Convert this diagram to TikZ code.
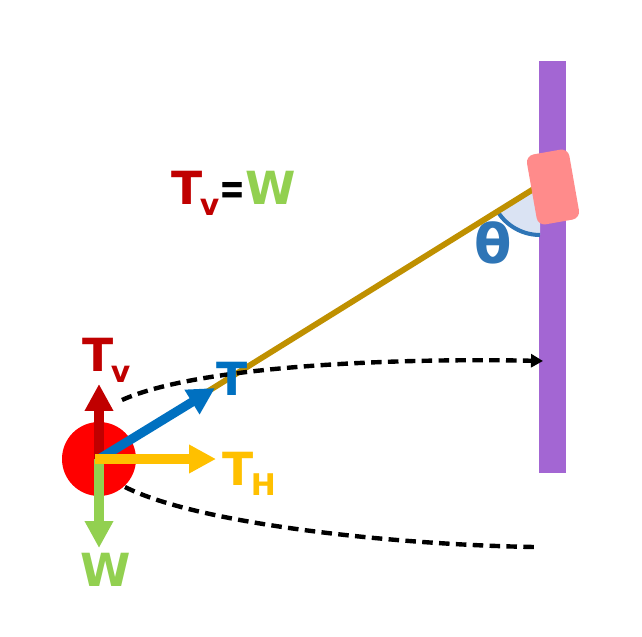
\documentclass[tikz,border=0pt]{standalone}
\usepackage{fontspec}
\setmainfont{DejaVu Sans}
\usetikzlibrary{arrows.meta, positioning, calc}
\definecolor{tvred}{HTML}{C00000}
\definecolor{tblue}{HTML}{0070C0}
\definecolor{thyellow}{HTML}{FFC000}
\definecolor{wgreen}{HTML}{92D050}
\definecolor{ropegold}{HTML}{BF9000}
\definecolor{polepurple}{HTML}{A366D3}
\definecolor{blockpink}{HTML}{FF8B8B}
\definecolor{arcblue}{HTML}{2E75B6}
\definecolor{arcfill}{HTML}{DAE3F3}
\tikzstyle{force} = [line width=5.2pt, -{Triangle[length=0.54cm, width=0.54cm]}]
\tikzstyle{swing} = [line width=2.5pt, dash pattern=on 6pt off 3.6pt]
\tikzstyle{lbl} = [inner sep=0pt, anchor=base west, font=\fontsize{26}{30}\selectfont\bfseries]
\newcommand{\lowsub}[1]{\kern-1.5pt\raisebox{-6pt}{\fontsize{17}{20}\selectfont\bfseries #1}}

\begin{document}
\begin{tikzpicture}[x=0.02cm, y=0.02cm]
    \useasboundingbox (0,0) rectangle (642,636);
    % wall post
    \fill[polepurple] (539,163) rectangle (566,575);
    \coordinate (hook) at (540,451);
    % angle
    \fill[arcfill] (hook) -- ++(211.9:50) arc[start angle=211.9, end angle=270, radius=50] -- cycle;
    \draw[arcblue, line width=2.3pt] ($(hook)+(211.9:50)$) arc[start angle=211.9, end angle=270, radius=50];
    \node (theta) [text=arcblue, font=\fontsize{31}{34}\selectfont\bfseries, inner sep=0pt] at (493,393) {θ};

    \node (ball) [circle, fill=red, minimum size=1.48cm, inner sep=0pt] at (99,177) {};
    \draw [ropegold, line width=3.3pt] (ball.center) -- (hook);
    \node (block) [rectangle, rounded corners=4.5pt, fill=blockpink, minimum width=0.86cm, minimum height=1.42cm, rotate=10] at (553,449) {};

    % paths of the swing
    \draw [swing, -{Triangle[length=0.24cm, width=0.26cm]}] (122,236) .. controls (200,271) and (400,278) .. (543,275);
    \draw [swing] (125,149) .. controls (200,111) and (400,91) .. (535,89);

    % forces
    \coordinate (tvtip) at (99,252);
    \coordinate (wtip) at (99,88);
    \coordinate (thtip) at (216,177);
    \coordinate (ttip) at (215,248);
    \draw [force, tvred] (ball.center) -- (tvtip);
    \draw [force, wgreen] (ball.center) -- (wtip);
    \draw [force, tblue] (ball.center) -- (ttip);
    \draw [force, thyellow] ($(ball.center)+(-4,0)$) -- (thtip);

    \node (tvlbl) [lbl, text=tvred] at (82,264) {T\lowsub{v}};
    \node (tlbl) [lbl, text=tblue] at (216,241) {T};
    \node (thlbl) [lbl, text=thyellow] at (222,151) {T\lowsub{H}};
    \node (wlbl) [lbl, text=wgreen] at (80,50) {W};
    \node (eqlbl) [lbl] at (171,431) {\textcolor{tvred}{T\lowsub{v}}\scalebox{0.68}[1]{=}\textcolor{wgreen}{W}};
\end{tikzpicture}
\end{document}
